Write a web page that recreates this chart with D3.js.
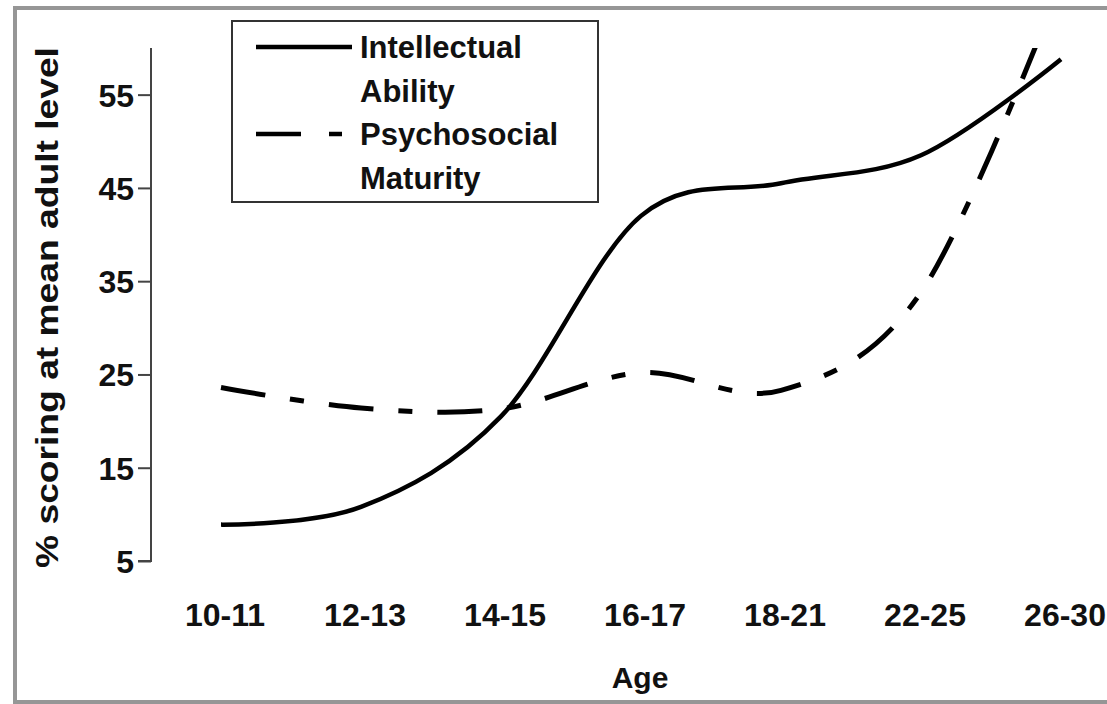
<!DOCTYPE html>
<html>
<head>
<meta charset="utf-8">
<script src="https://cdn.jsdelivr.net/npm/d3@7"></script>
<style>
    body { margin: 0; background: #fff; }
    svg text { font-family: "Liberation Sans", Arial, sans-serif; font-weight: bold; fill: #111; }
</style>
</head>
<body>
<div id="chart"></div>
<script>
(function () {

    /* data */
    var AGES         = ["10-11", "12-13", "14-15", "16-17", "18-21", "22-25", "26-30"];
    var INTELLECTUAL = [8.9, 10.8, 20.5, 42.0, 45.5, 48.5, 58.8];
    var PSYCHOSOCIAL = [23.6, 21.4, 21.3, 25.2, 23.3, 33.8, 67.0];
    var Y_TICKS      = [5, 15, 25, 35, 45, 55];
    var LEGEND       = [
        { lines: ["Intellectual", "Ability"],   dash: null },
        { lines: ["Psychosocial", "Maturity"],  dash: "45,25,14,25" }
    ];

    var W = 1107, H = 704;
    var LEFT = 151, TOP = 48, BOTTOM = 561;
    var STEP = 140;   // category width px

    var svg = d3.select("#chart").append("svg")
        .attr("width", W).attr("height", H);

    /* outer frame */
    svg.append("rect")
        .attr("x", 15).attr("y", 8)
        .attr("width", W + 20).attr("height", 694)
        .attr("fill", "none")
        .attr("stroke", "#969696")
        .attr("stroke-width", 4);

    var x = d3.scaleBand()
        .domain(AGES)
        .range([LEFT, LEFT + AGES.length * STEP]);

    var y = d3.scaleLinear()
        .domain([5, 60])
        .range([BOTTOM, TOP]);

    /* y axis */
    var yAxis = svg.append("g")
        .attr("transform", "translate(" + LEFT + ",0)")
        .call(d3.axisLeft(y).tickValues(Y_TICKS).tickSize(13).tickPadding(4).tickSizeOuter(0));
    yAxis.attr("font-family", null).attr("font-size", null);
    yAxis.select(".domain").attr("stroke", "#444").attr("stroke-width", 2)
        .attr("d", "M0," + TOP + "V" + BOTTOM + "H-13");
    yAxis.selectAll(".tick line").attr("stroke", "#444").attr("stroke-width", 2);
    yAxis.selectAll(".tick text")
        .attr("font-size", 32)
        .attr("dy", "0.36em");

    /* x labels (no axis line in the figure) */
    svg.append("g").selectAll("text")
        .data(AGES)
        .enter()
        .append("text")
        .attr("x", function (d) { return x(d) + x.bandwidth() / 2 + 4; })
        .attr("y", 626)
        .attr("text-anchor", "middle")
        .attr("font-size", 32)
        .text(function (d) { return d; });

    /* axis titles */
    svg.append("text")
        .attr("x", 640).attr("y", 688)
        .attr("text-anchor", "middle")
        .attr("font-size", 30)
        .text("Age");

    svg.append("text")
        .attr("transform", "translate(58," + ((TOP + BOTTOM) / 2 + 3) + ") rotate(-90) scale(1.2,1)")
        .attr("text-anchor", "middle")
        .attr("font-size", 31)
        .text("% scoring at mean adult level");

    /* lines */
    svg.append("clipPath").attr("id", "plot-clip")
        .append("rect")
        .attr("x", LEFT).attr("y", TOP)
        .attr("width", W - LEFT).attr("height", BOTTOM - TOP);

    var line = d3.line()
        .x(function (d, i) { return x(AGES[i]) + x.bandwidth() / 2; })
        .y(function (d) { return y(d); })
        .curve(d3.curveCardinal.tension(0));

    var plot = svg.append("g").attr("clip-path", "url(#plot-clip)");

    plot.append("path")
        .datum(INTELLECTUAL)
        .attr("d", line)
        .attr("fill", "none")
        .attr("stroke", "#000")
        .attr("stroke-width", 4.5);

    plot.append("path")
        .datum(PSYCHOSOCIAL)
        .attr("d", line)
        .attr("fill", "none")
        .attr("stroke", "#000")
        .attr("stroke-width", 5)
        .attr("stroke-dasharray", LEGEND[1].dash);

    /* legend */
    var lg = svg.append("g");
    lg.append("rect")
        .attr("x", 232).attr("y", 21)
        .attr("width", 366).attr("height", 181)
        .attr("fill", "#fff")
        .attr("stroke", "#333")
        .attr("stroke-width", 2);

    LEGEND.forEach(function (item, i) {
        var cy = 47 + i * 87;
        lg.append("line")
            .attr("x1", 256).attr("x2", 352)
            .attr("y1", cy).attr("y2", cy)
            .attr("stroke", "#000")
            .attr("stroke-width", 4.5)
            .attr("stroke-dasharray", item.dash ? "45,28,13,100" : null);
        item.lines.forEach(function (t, j) {
            lg.append("text")
                .attr("x", 360)
                .attr("y", cy + 11 + j * 44)
                .attr("font-size", 31)
                .text(t);
        });
    });

}());
</script>
</body>
</html>
